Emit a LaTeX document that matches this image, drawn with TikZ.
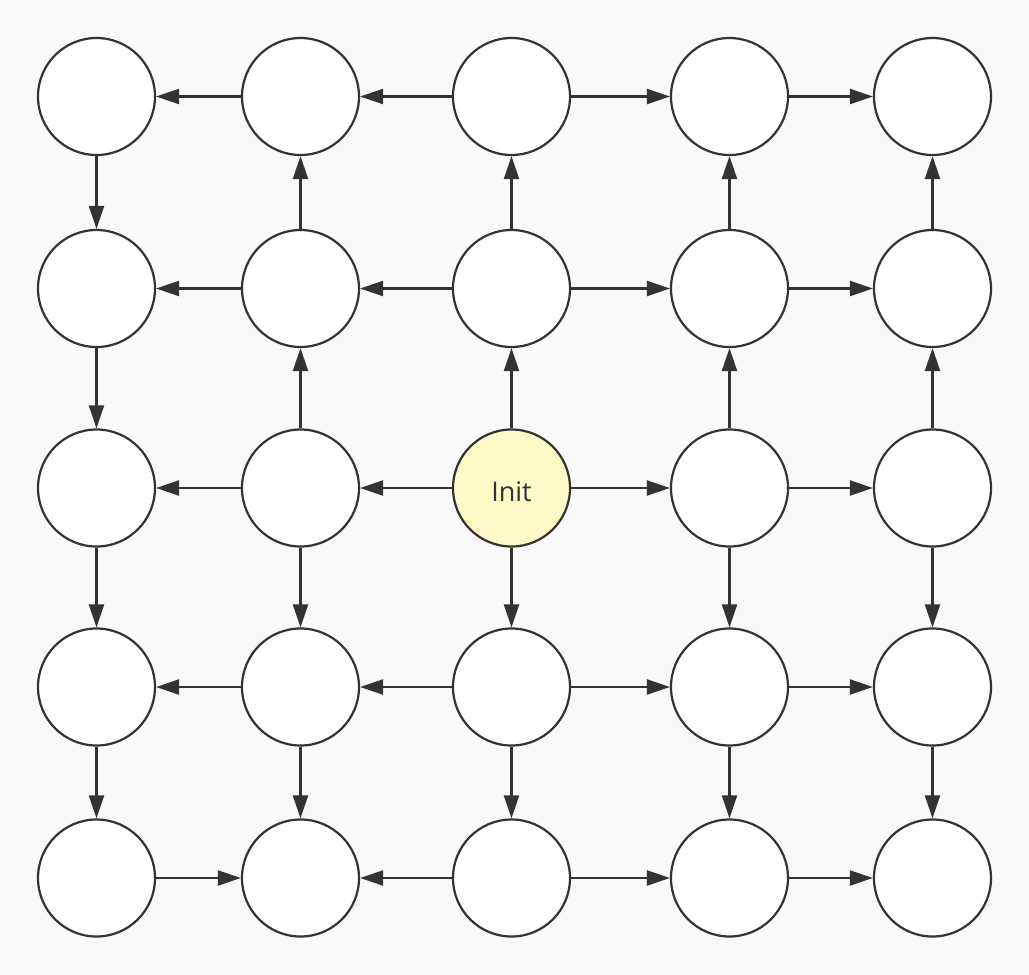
\documentclass[tikz,border=0pt]{standalone}
\usepackage{fontspec}
\setmainfont{Open Sans}
\usetikzlibrary{arrows.meta}
\definecolor{bg}{HTML}{F9F9F9}
\definecolor{ink}{HTML}{333333}
\definecolor{initfill}{HTML}{FFF9C8}
\begin{document}
\begin{tikzpicture}[x=1pt,y=-1pt,
  cell/.style={circle,draw=ink,line width=2.2pt,fill=white,minimum size=117pt,inner sep=0pt},
  start/.style={cell,fill=initfill},
  lbl/.style={font=\fontsize{27}{30}\selectfont,text=ink,inner sep=0pt},
  link/.style={draw=ink,line width=2.2pt,-{Triangle[length=23pt,width=15pt]}}]
\fill[bg] (0,0) rectangle (1029,975);
\useasboundingbox (0,0) rectangle (1029,975);
\foreach \c/\x in {0/96.5,1/300.5,2/511.5,3/729.5,4/932.5}{
  \foreach \r/\y in {0/96.5,1/288.5,2/488,3/687,4/878}{
    \ifnum\c=2 \ifnum\r=2
      \node[start] (n\c\r) at (\x,\y) {};
    \else
      \node[cell] (n\c\r) at (\x,\y) {};
    \fi\else
      \node[cell] (n\c\r) at (\x,\y) {};
    \fi
  }
}
\node[lbl] (initlabel) at ([yshift=-4pt]n22.center) {Init};
% horizontal rows 0-3
\foreach \r in {0,1,2,3}{
  \draw[link] (n1\r) -- (n0\r);
  \draw[link] (n2\r) -- (n1\r);
  \draw[link] (n2\r) -- (n3\r);
  \draw[link] (n3\r) -- (n4\r);
}
% bottom row
\draw[link] (n04) -- (n14);
\draw[link] (n24) -- (n14);
\draw[link] (n24) -- (n34);
\draw[link] (n34) -- (n44);
% column 0 downwards
\draw[link] (n00) -- (n01);
\draw[link] (n01) -- (n02);
\draw[link] (n02) -- (n03);
\draw[link] (n03) -- (n04);
% columns 1-4
\foreach \c in {1,2,3,4}{
  \draw[link] (n\c1) -- (n\c0);
  \draw[link] (n\c2) -- (n\c1);
  \draw[link] (n\c2) -- (n\c3);
  \draw[link] (n\c3) -- (n\c4);
}
\end{tikzpicture}
\end{document}
